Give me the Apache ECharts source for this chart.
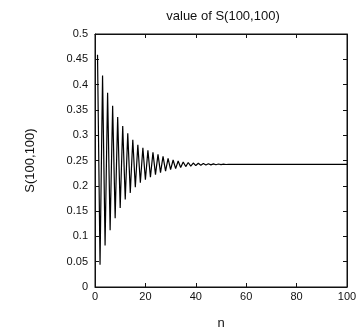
<!DOCTYPE html>
<html>
<head>
<meta charset="utf-8">
<script src="https://cdn.jsdelivr.net/npm/echarts@6/dist/echarts.min.js"></script>
<style>
  html, body { margin: 0; padding: 0; background: #fff; }
  #chart { width: 361px; height: 328px; }
</style>
</head>
<body>
<div id="chart"></div>
<script>
// n = 1..100
var nValues = [];
for (var i = 1; i <= 100; i++) nValues.push(i);

// S(100,100)
var sValues = [
  0.459, 0.044, 0.418, 0.082, 0.384, 0.112, 0.358, 0.136, 0.336, 0.156,
  0.318, 0.173, 0.304, 0.186, 0.291, 0.197, 0.281, 0.206, 0.275, 0.212,
  0.270, 0.217, 0.266, 0.222, 0.262, 0.226, 0.258, 0.229, 0.254, 0.232,
  0.251, 0.234, 0.249, 0.236, 0.247, 0.238, 0.246, 0.239, 0.245, 0.240,
  0.2445, 0.2405, 0.244, 0.241, 0.2437, 0.2413, 0.2434, 0.2416, 0.2431, 0.2419,
  0.2428, 0.2421, 0.2426, 0.2423, 0.2425, 0.2424, 0.2425, 0.2425, 0.2425, 0.2425,
  0.2425, 0.2425, 0.2425, 0.2425, 0.2425, 0.2425, 0.2425, 0.2425, 0.2425, 0.2425,
  0.2425, 0.2425, 0.2425, 0.2425, 0.2425, 0.2425, 0.2425, 0.2425, 0.2425, 0.2425,
  0.2425, 0.2425, 0.2425, 0.2425, 0.2425, 0.2425, 0.2425, 0.2425, 0.2425, 0.2425,
  0.2425, 0.2425, 0.2425, 0.2425, 0.2425, 0.2425, 0.2425, 0.2425, 0.2425, 0.2425
];

var xTicks = [0, 20, 40, 60, 80, 100];
var yTicks = [0, 0.05, 0.1, 0.15, 0.2, 0.25, 0.3, 0.35, 0.4, 0.45, 0.5];

var font = 'Liberation Sans, Arial, sans-serif';
var ink = '#111';

var points = nValues.map(function (n, i) { return [n, sValues[i]]; });

var chartDom = document.getElementById('chart');
var myChart = echarts.init(chartDom);
var option;

var frameLine = { show: true, onZero: false, lineStyle: { color: ink, width: 1 } };
var tickIn = { show: true, inside: true, length: 4, lineStyle: { color: ink } };

option = {
  animation: false,
  title: {
    text: 'value of S(100,100)',
    left: 218,
    top: 5,
    textAlign: 'center',
    textStyle: { fontFamily: font, fontSize: 13, fontWeight: 'normal', color: ink }
  },
  grid: {
    left: 95, right: 14, top: 34, bottom: 41,
    outerBoundsMode: 'none',
    containLabel: false,
    show: true, borderColor: ink, borderWidth: 1, backgroundColor: 'transparent'
  },
  xAxis: [
    {
      type: 'value',
      min: xTicks[0],
      max: xTicks[xTicks.length - 1],
      interval: 20,
      name: 'n',
      nameLocation: 'middle',
      nameGap: 30,
      nameTextStyle: { fontFamily: font, fontSize: 13, color: ink },
      axisLine: frameLine,
      axisTick: tickIn,
      splitLine: { show: false },
      axisLabel: { fontFamily: font, fontSize: 11, color: ink, margin: 4 }
    },
    {
      type: 'value',
      position: 'top',
      min: xTicks[0],
      max: xTicks[xTicks.length - 1],
      interval: 20,
      axisLine: frameLine,
      axisTick: tickIn,
      splitLine: { show: false },
      axisLabel: { show: false }
    }
  ],
  yAxis: [
    {
      type: 'value',
      min: yTicks[0],
      max: yTicks[yTicks.length - 1],
      interval: 0.05,
      name: 'S(100,100)',
      nameLocation: 'middle',
      nameGap: 58,
      nameTextStyle: { fontFamily: font, fontSize: 13, color: ink },
      axisLine: frameLine,
      axisTick: tickIn,
      splitLine: { show: false },
      axisLabel: {
        fontFamily: font, fontSize: 11, color: ink, margin: 7,
        formatter: function (v) { return String(Math.round(v * 100) / 100); }
      }
    },
    {
      type: 'value',
      position: 'right',
      min: yTicks[0],
      max: yTicks[yTicks.length - 1],
      interval: 0.05,
      axisLine: frameLine,
      axisTick: tickIn,
      splitLine: { show: false },
      axisLabel: { show: false }
    }
  ],
  series: [
    {
      type: 'line',
      data: points,
      showSymbol: false,
      symbol: 'none',
      lineStyle: { color: '#000', width: 1.2 },
      silent: true
    },
    {
      // invisible copy so the mirrored top/right axes get drawn
      type: 'line',
      xAxisIndex: 1,
      yAxisIndex: 1,
      data: points,
      showSymbol: false,
      symbol: 'none',
      lineStyle: { opacity: 0 },
      silent: true
    }
  ]
};

option && myChart.setOption(option);
</script>
</body>
</html>
